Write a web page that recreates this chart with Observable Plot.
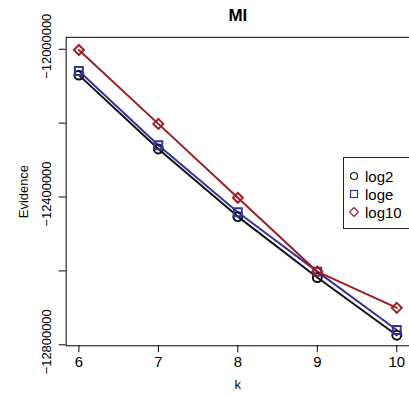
<!DOCTYPE html>
<html>
<head>
<meta charset="utf-8">
<script src="https://cdn.jsdelivr.net/npm/d3@7"></script>
<script src="https://cdn.jsdelivr.net/npm/@observablehq/plot@0.6"></script>
<style>
  html, body { margin: 0; padding: 0; background: #fff; overflow: hidden; }
  #wrap { position: relative; width: 409px; height: 397px; overflow: hidden; }
  #legend { position: absolute; left: 343px; top: 157px; width: 80px; height: 70px;
    border: 1px solid #222; background: #fff; font-family: "Liberation Sans", Arial, sans-serif; font-size: 15px; color: #000; }
  #legend .row { position: absolute; left: 0; height: 18px; display: flex; align-items: center; }
  #legend svg { margin-left: 5px; margin-right: 6px; }
</style>
</head>
<body>
<div id="wrap"><div id="legend"></div></div>
<script>
const kValues = [6, 7, 8, 9, 10];
const seriesNames = ["log2", "loge", "log10"];
const seriesColors = ["#111111", "#34349A", "#9E1C22"];
const seriesSymbols = ["circle", "square", "diamond2"];
const log2Values = [-12070000, -12270000, -12453000, -12618000, -12774000];
const logeValues = [-12059000, -12260000, -12441000, -12602000, -12760000];
const log10Values = [-12002000, -12202000, -12402000, -12602000, -12700000];
const xTicks = [6, 7, 8, 9, 10];
const yTicks = [-12000000, -12200000, -12400000, -12600000, -12800000];
const yLabelTicks = [-12000000, -12400000, -12800000];
const yTickLabels = ["\u221212000000", "\u221212400000", "\u221212800000"];

const valuesBySeries = {log2: log2Values, loge: logeValues, log10: log10Values};
const data = seriesNames.flatMap(s => kValues.map((k, i) => ({series: s, k, value: valuesBySeries[s][i]})));

const font = "'Liberation Sans', Arial, sans-serif";
const chart = Plot.plot({
  width: 411, height: 397,
  marginLeft: 66, marginRight: 0, marginTop: 37, marginBottom: 50,
  style: {fontFamily: font, background: "white", color: "#000"},
  x: {domain: [5.84, 10.16], axis: null},
  y: {domain: [-12802700, -11967700], axis: null},
  color: {domain: seriesNames, range: seriesColors},
  symbol: {domain: seriesNames, range: seriesSymbols},
  marks: [
    Plot.frame({stroke: "#000", strokeWidth: 1}),
    Plot.axisX({ticks: xTicks, tickSize: 7, tickPadding: 4, fontSize: 15, label: null, fill: "#000", stroke: "#000", tickFormat: d => String(d)}),
    Plot.axisY({ticks: yTicks, tickSize: 7, tickFormat: () => "", label: null, stroke: "#000"}),
    Plot.text(yLabelTicks, {y: d => d, text: (d, i) => yTickLabels[i], frameAnchor: "left", dx: -19, dy: -3, rotate: -90, fontSize: 13, textAnchor: "middle", lineAnchor: "middle", fill: "#000"}),
    Plot.text(["Evidence"], {frameAnchor: "left", dx: -43, rotate: -90, fontSize: 13, textAnchor: "middle", lineAnchor: "middle", fill: "#000"}),
    Plot.text(["k"], {frameAnchor: "bottom", dy: 39, fontSize: 13, textAnchor: "middle", lineAnchor: "middle", fill: "#000"}),
    Plot.text(["MI"], {frameAnchor: "top", dy: -22, fontSize: 17, fontWeight: "bold", textAnchor: "middle", lineAnchor: "middle", fill: "#000"}),
    Plot.line(data, {x: "k", y: "value", z: "series", stroke: "series", strokeWidth: 2}),
    Plot.dot(data, {x: "k", y: "value", stroke: "series", symbol: "series", r: 4.5, strokeWidth: 2, fill: "none"})
  ]
});
document.getElementById("wrap").prepend(chart);

const legend = document.getElementById("legend");
const symPaths = {
  circle: '<circle cx="5" cy="5" r="3.5" fill="none" stroke-width="1.2"/>',
  square: '<rect x="1.5" y="1.5" width="7" height="7" fill="none" stroke-width="1.2"/>',
  diamond2: '<path d="M5 0.5 L9.5 5 L5 9.5 L0.5 5 Z" fill="none" stroke-width="1.2"/>'
};
seriesNames.forEach((s, i) => {
  const row = document.createElement("div");
  row.className = "row";
  row.style.top = (9 + i * 18) + "px";
  row.innerHTML = `<svg width="10" height="10" stroke="${seriesColors[i]}">${symPaths[seriesSymbols[i]]}</svg><span>${s}</span>`;
  legend.appendChild(row);
});
</script>
</body>
</html>
